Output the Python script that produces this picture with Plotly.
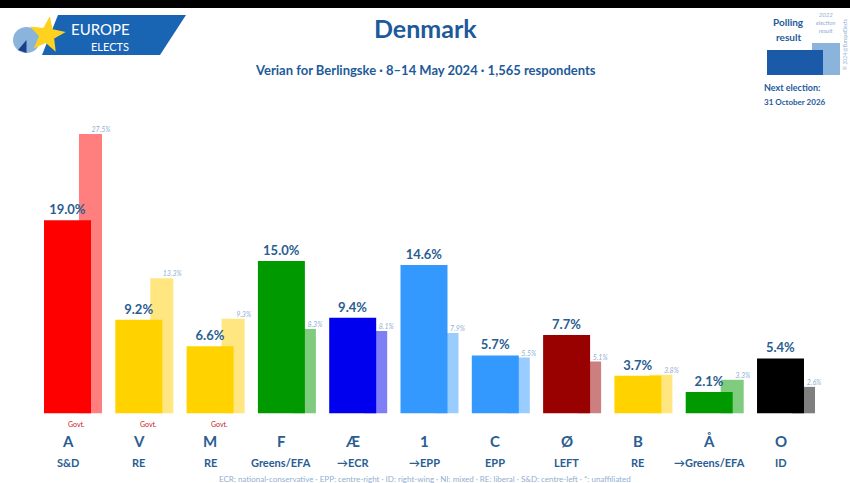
import math
import plotly.graph_objects as go

W, H = 850, 483

parties = ["A", "V", "M", "F", "Æ", "1", "C", "Ø", "B", "Å", "O"]
groups = ["S&D", "RE", "RE", "Greens/EFA", "→ECR", "→EPP", "EPP", "LEFT", "RE", "→Greens/EFA", "ID"]
poll = [19.0, 9.2, 6.6, 15.0, 9.4, 14.6, 5.7, 7.7, 3.7, 2.1, 5.4]
election = [27.5, 13.3, 9.3, 8.3, 8.1, 7.9, 5.5, 5.1, 3.8, 3.3, 2.6]
govt = ["A", "V", "M"]
poll_colors = ["#FF0000", "#FFD200", "#FFD200", "#009900", "#0000EE", "#3399FF",
               "#3399FF", "#990000", "#FFD200", "#009900", "#000000"]
elec_colors = ["#FF7F7F", "#FFE680", "#FFE680", "#7FCC7F", "#7F7FF5", "#99CCFF",
               "#99CCFF", "#CC7F7F", "#FFE680", "#7FCC7F", "#7F7F7F"]

idx = list(range(len(parties)))

TXT = "#2a5d92"
FONT = "Lato"

def px(x):
    return x / W

def py(y):
    return 1 - y / H

POLL_W, POLL_OFF = 0.659, -0.3295
EL_W, EL_OFF = 0.323, 0.161
EL_LABEL_DX = 0.47

fig = go.Figure()
fig.add_trace(go.Bar(
    x=idx, y=election, marker=dict(color=elec_colors, line=dict(width=0)),
    width=EL_W, offset=EL_OFF, hoverinfo="skip"))
fig.add_trace(go.Bar(
    x=idx, y=poll, marker=dict(color=poll_colors, line=dict(width=0)),
    width=POLL_W, offset=POLL_OFF,
    text=[f"{v:.1f}%" for v in poll], textposition="outside",
    constraintext="none", cliponaxis=False,
    textfont=dict(family=FONT, size=13, color=TXT, weight="bold"),
    hoverinfo="skip"))
fig.add_trace(go.Scatter(
    x=[i + EL_LABEL_DX for i in idx], y=election, mode="text",
    text=[f"{v:.1f}%" for v in election], textposition="top center",
    textfont=dict(family=FONT, size=7, color="#8fb0d4", style="italic"),
    cliponaxis=False, hoverinfo="skip"))

spacing = 71.3
c0 = 67.5
r0 = -c0 / spacing
r1 = r0 + W / spacing
base = 413.3
scale = 10.16

shapes = []
annotations = []

def ann(x, y, text, size, color, xref="paper", bold=False, italic=False,
        xanchor="center", angle=0):
    font = dict(family=FONT, size=size, color=color)
    if bold:
        font["weight"] = "bold"
    if italic:
        font["style"] = "italic"
    annotations.append(dict(x=x, y=py(y), xref=xref, yref="paper", text=text,
                            showarrow=False, xanchor=xanchor, yanchor="middle",
                            textangle=angle, font=font))

# black band at top
shapes.append(dict(type="rect", xref="paper", yref="paper", x0=0, x1=1,
                   y0=py(8), y1=1, fillcolor="black", line=dict(width=0)))

# party and group labels
for i, (p, g) in enumerate(zip(parties, groups)):
    ann(i, 441, p, 15, TXT, xref="x", bold=True)
    ann(i, 462, g, 11, TXT, xref="x", bold=True)
for p in govt:
    ann(parties.index(p) + 0.13, 424, "Govt.", 7, "#cc2222", xref="x")

# title, subtitle
ann(0.5, 28, "Denmark", 25, "#1d5a9a", bold=True)
ann(0.5, 70, "Verian for Berlingske · 8–14 May 2024 · 1,565 respondents", 13, "#1d5a9a", bold=True)

# footer
ann(0.5, 479, "ECR: national-conservative · EPP: centre-right · ID: right-wing · NI: mixed · "
    "RE: liberal · S&D: centre-left · *: unaffiliated", 8, "#8fb0d4")

# logo
def path(pts):
    return "M " + " L ".join(f"{px(x)} {py(y)}" for x, y in pts) + " Z"

shapes.append(dict(type="path", xref="paper", yref="paper",
                   path=path([(58, 15), (186, 15), (160, 55), (42, 55)]),
                   fillcolor="#1a64b4", line=dict(width=0)))
shapes.append(dict(type="circle", xref="paper", yref="paper",
                   x0=px(13), x1=px(40), y0=py(53), y1=py(27),
                   fillcolor="#8ab4dc", line=dict(width=0)))
shapes.append(dict(type="path", xref="paper", yref="paper",
                   path=path([(26.5, 40), (26.5, 53), (18, 50)]),
                   fillcolor="#1c3f8a", line=dict(width=0)))
star = []
cx, cy, R, r = 47, 35, 19, 8
for k in range(10):
    ang = -math.pi / 2 + k * math.pi / 5 + 0.15
    rad = R if k % 2 == 0 else r
    star.append((cx + rad * math.cos(ang), cy + rad * math.sin(ang)))
shapes.append(dict(type="path", xref="paper", yref="paper", path=path(star),
                   fillcolor="#FFD21F", line=dict(width=0)))
ann(px(100), 29, "EUROPE", 15, "white")
ann(px(110), 46, "ELECTS", 11, "white")

# legend box top right
shapes.append(dict(type="rect", xref="paper", yref="paper", x0=px(812), x1=px(840),
                   y0=py(75), y1=py(43), fillcolor="#8ab4dc", line=dict(width=0)))
shapes.append(dict(type="rect", xref="paper", yref="paper", x0=px(767), x1=px(823),
                   y0=py(75), y1=py(50), fillcolor="#1a5aa8", line=dict(width=0)))
ann(px(788), 22, "Polling", 10, "#1d5a9a", bold=True)
ann(px(788), 37, "result", 10, "#1d5a9a", bold=True)
ann(px(826), 22, "2022<br>election<br>result", 6, "#8fb0d4", italic=True)
ann(px(762), 87, "Next election:", 9, "#1d5a9a", bold=True, xanchor="left")
ann(px(762), 102, "31 October 2026", 8, "#1d5a9a", bold=True, xanchor="left")
ann(px(845), 45, "© 2024 @EuropeElects", 5, "#8fb0d4", angle=-90)

fig.update_layout(
    width=W, height=H, barmode="overlay", showlegend=False,
    margin=dict(l=0, r=0, t=0, b=0),
    paper_bgcolor="white", plot_bgcolor="white",
    xaxis=dict(range=[r0, r1], showticklabels=False, showgrid=False, zeroline=False,
               fixedrange=True),
    yaxis=dict(range=[-(H - base) / scale, base / scale], showticklabels=False,
               showgrid=False, zeroline=False, fixedrange=True),
    shapes=shapes, annotations=annotations,
    font=dict(family=FONT),
)

fig.write_html("out.html", config={"displayModeBar": False},
               post_script="document.body.style.margin='0';document.body.style.overflow='hidden';")
